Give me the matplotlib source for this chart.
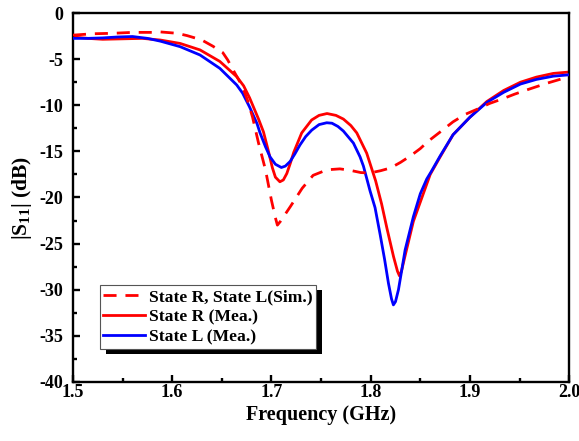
import matplotlib
matplotlib.use("Agg")
import matplotlib.pyplot as plt
from matplotlib.patches import Rectangle
from matplotlib.ticker import MultipleLocator

# ---- data ----
f_sim = [1.500, 1.520, 1.540, 1.560, 1.580, 1.588, 1.605, 1.615, 1.626, 1.631,
         1.641, 1.651, 1.656, 1.661, 1.671, 1.676, 1.681, 1.687, 1.694, 1.700,
         1.704, 1.706, 1.709, 1.719, 1.731, 1.742, 1.756, 1.769, 1.779, 1.790,
         1.799, 1.810, 1.820, 1.830, 1.840, 1.850, 1.858, 1.870, 1.883, 1.895,
         1.908, 1.920, 1.933, 1.945, 1.957, 1.978, 2.000]
s_sim = [-2.4, -2.25, -2.2, -2.1, -2.1, -2.05, -2.2, -2.45, -2.8, -3.0,
         -3.6, -4.3, -5.1, -6.1, -8.0, -9.5, -11.3, -14.1, -17.0, -20.3,
         -22.2, -23.0, -22.6, -21.0, -19.0, -17.6, -17.0, -16.9, -17.05, -17.3,
         -17.35, -17.1, -16.8, -16.2, -15.5, -14.7, -13.9, -12.9, -11.8, -11.0,
         -10.4, -9.8, -9.3, -8.8, -8.35, -7.6, -6.9]

f_r = [1.500, 1.515, 1.530, 1.550, 1.570, 1.588, 1.608, 1.628, 1.648, 1.665,
       1.672, 1.678, 1.687, 1.692, 1.697, 1.701, 1.704, 1.7085, 1.712, 1.7155,
       1.719, 1.7225, 1.7305, 1.7405, 1.748, 1.756, 1.765, 1.7725, 1.780, 1.786,
       1.796, 1.805, 1.811, 1.8165, 1.823, 1.827, 1.829, 1.831, 1.8345, 1.843,
       1.853, 1.860, 1.870, 1.883, 1.900, 1.917, 1.934, 1.951, 1.967, 1.984,
       2.000]
s_r = [-2.6, -2.75, -2.85, -2.8, -2.75, -2.93, -3.3, -4.0, -5.25, -6.9,
       -7.9, -9.2, -11.5, -12.9, -15.0, -16.8, -17.8, -18.3, -18.1, -17.4,
       -16.3, -15.1, -13.0, -11.6, -11.1, -10.9, -11.1, -11.5, -12.2, -13.0,
       -15.2, -18.2, -20.7, -23.4, -26.4, -28.0, -28.5, -28.0, -26.4, -22.6,
       -19.6, -17.5, -15.6, -13.2, -11.3, -9.6, -8.4, -7.5, -6.95, -6.55,
       -6.4]

f_l = [1.500, 1.515, 1.530, 1.545, 1.560, 1.575, 1.588, 1.608, 1.628, 1.648,
       1.665, 1.671, 1.678, 1.6855, 1.6885, 1.694, 1.6986, 1.704, 1.710, 1.714,
       1.7188, 1.7235, 1.7288, 1.7345, 1.7406, 1.748, 1.7557, 1.761, 1.767, 1.7725,
       1.7826, 1.7893, 1.7927, 1.7994, 1.8044, 1.8095, 1.814, 1.8179, 1.821, 1.8229,
       1.825, 1.828, 1.8347, 1.843, 1.850, 1.8565, 1.861, 1.870, 1.883, 1.900,
       1.917, 1.934, 1.951, 1.967, 1.984, 2.000]
s_l = [-2.75, -2.75, -2.7, -2.6, -2.55, -2.75, -3.05, -3.65, -4.55, -6.0,
       -7.8, -8.7, -10.2, -12.0, -13.0, -14.5, -15.6, -16.4, -16.75, -16.6,
       -16.1, -15.3, -14.3, -13.4, -12.7, -12.1, -11.9, -11.95, -12.3, -12.8,
       -14.1, -15.6, -16.6, -19.3, -21.1, -24.0, -26.7, -29.3, -31.0, -31.65,
       -31.3, -30.0, -25.7, -22.1, -19.6, -18.0, -17.2, -15.5, -13.2, -11.3,
       -9.7, -8.6, -7.7, -7.2, -6.85, -6.7]

labels = ["State R, State L(Sim.)", "State R (Mea.)", "State L (Mea.)"]
x_ticks = [1.5, 1.6, 1.7, 1.8, 1.9, 2.0]
y_ticks = [0, -5, -10, -15, -20, -25, -30, -35, -40]

# ---- style ----
plt.rcParams['font.family'] = ['Liberation Serif', 'DejaVu Serif']
plt.rcParams['font.weight'] = 'bold'
plt.rcParams['axes.unicode_minus'] = False
plt.rcParams['mathtext.fontset'] = 'custom'
plt.rcParams['mathtext.rm'] = 'Liberation Serif:bold'
plt.rcParams['mathtext.bf'] = 'Liberation Serif:bold'
plt.rcParams['mathtext.default'] = 'bf'

fig = plt.figure(figsize=(5.79, 4.41), dpi=100)
ax = fig.add_axes([0.126, 0.134, 0.857, 0.8365])

LW = 2.0
ax.plot(f_sim, s_sim, color='#ff0000', lw=LW, dashes=(4.7, 3.2), label=labels[0],
        zorder=4, solid_joinstyle='round', dash_joinstyle='round')
ax.plot(f_r, s_r, color='#ff0000', lw=LW, label=labels[1], zorder=2,
        solid_joinstyle='round')
ax.plot(f_l, s_l, color='#0000ff', lw=LW, label=labels[2], zorder=3,
        solid_joinstyle='round')

ax.set_xlim(1.5, 2.0)
ax.set_ylim(-40, 0)
ax.set_xticks(x_ticks)
ax.set_xticklabels([f"{v:.1f}" for v in x_ticks])
ax.set_yticks(y_ticks)
ax.set_yticklabels([str(v) for v in y_ticks])
ax.xaxis.set_minor_locator(MultipleLocator(0.05))
ax.yaxis.set_minor_locator(MultipleLocator(2.5))
ax.tick_params(which='both', direction='in', top=False, right=False, width=1.7,
               labelsize=13)
ax.tick_params(which='major', length=5)
ax.tick_params(which='minor', length=3)
ax.tick_params(axis='x', pad=1.5)
ax.tick_params(axis='y', pad=7)
for s in ax.spines.values():
    s.set_linewidth(1.7)

ax.set_xlabel("Frequency (GHz)", fontsize=14.5, fontweight='bold', labelpad=3)
ax.set_ylabel("|S$_{11}$| (dB)", fontsize=15.5, fontweight='bold', labelpad=4)

leg = ax.legend(loc='lower left', bbox_to_anchor=(0.0544, 0.0894), frameon=True,
                fancybox=False, edgecolor='#555555', framealpha=1,
                prop={'size': 12.6, 'weight': 'bold'}, handlelength=2.35,
                handletextpad=0.25, borderpad=0.2, labelspacing=0.22,
                borderaxespad=0)
leg.get_frame().set_linewidth(0.8)
leg.set_zorder(10)

fig.canvas.draw()
bb = leg.get_window_extent().transformed(fig.transFigure.inverted())
dx, dy = 6 / 579, 5 / 441
shadow = Rectangle((bb.x0 + dx, bb.y0 - dy), bb.width, bb.height,
                   transform=fig.transFigure, facecolor='black', edgecolor='none',
                   zorder=9)
ax.add_artist(shadow)
shadow.set_clip_on(False)

fig.savefig("out.png", dpi=100)
